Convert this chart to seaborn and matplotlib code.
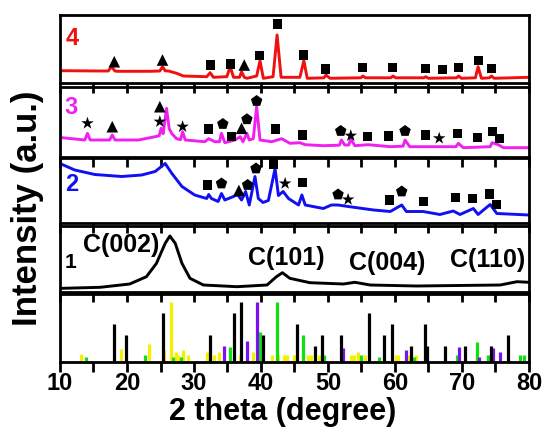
import numpy as np
import pandas as pd
import matplotlib
matplotlib.use("Agg")
import matplotlib.pyplot as plt
import seaborn as sns

# ---- data (2theta in degrees, intensity in arbitrary units) ----
# sample 4 (red)
s4_x = [10.0, 10.5, 16.0, 17.2, 17.7, 18.2, 18.5, 23.4, 24.9, 25.3, 25.7, 26.2, 27.4, 28.4, 31.9, 32.4, 32.9,
        34.9, 35.4, 35.9, 36.8, 37.1, 37.5, 37.9, 39.35, 39.85, 40.35, 41.8, 42.4, 43.0, 45.8, 46.4, 46.9,
        49.4, 49.7, 50.3, 54.9, 55.2, 55.6, 59.4, 59.7, 60.1, 64.3, 64.6, 65.0, 69.2, 69.5, 69.9, 72.0, 72.4,
        72.9, 74.1, 74.4, 74.8, 80.0]
s4_y = [12.6, 12.6, 12.3, 12.3, 16.6, 12.3, 12.0, 12.0, 12.3, 16.6, 12.5, 12.3, 10.0, 7.3, 6.6, 10.6, 6.0,
        6.6, 16.6, 6.0, 6.0, 11.6, 6.0, 5.0, 7.3, 22.6, 5.0, 6.6, 48.3, 6.0, 6.0, 22.6, 5.0,
        5.5, 8.3, 5.0, 5.5, 7.3, 5.5, 5.5, 7.3, 5.5, 5.5, 6.6, 5.0, 5.5, 7.3, 5.0, 5.5, 16.6,
        5.0, 5.5, 7.3, 5.0, 6.0]
s4_sq_x = [32.4, 35.4, 39.85, 42.4, 46.4, 49.7, 55.2, 59.7, 64.6, 67.1, 69.5, 72.4, 74.4]
s4_sq_y = [18.3, 19.3, 27.6, 59.3, 28.3, 14.3, 15.6, 15.6, 15.0, 14.0, 15.6, 22.6, 15.0]
s4_tri_x = [18.1, 25.3, 37.5]
s4_tri_y = [21.6, 23.3, 18.3]

# sample 3 (magenta)
s3_x = [10.0, 10.3, 13.7, 14.1, 14.5, 17.4, 17.8, 18.2, 21.7, 24.2, 24.8, 25.1, 25.4, 25.9, 26.3, 26.7, 27.4,
        28.0, 28.3, 28.7, 31.6, 32.2, 33.1, 33.8, 34.1, 34.6, 36.1, 36.9, 37.3, 37.9, 38.25, 38.85, 39.35,
        39.85, 41.6, 43.1, 44.3, 45.8, 46.6, 49.3, 51.7, 52.0, 52.5, 53.1, 53.4, 54.0, 56.0, 59.3, 61.2,
        61.5, 62.2, 66.5, 69.1, 69.45, 70.2, 74.2, 74.5, 75.4, 76.2, 80.0]
s3_y = [19.0, 19.0, 16.7, 23.4, 16.7, 16.7, 21.7, 16.7, 16.7, 20.0, 21.0, 28.4, 23.0, 48.4, 28.0, 23.0, 18.0,
        17.0, 25.0, 16.7, 15.0, 18.0, 15.0, 15.0, 23.4, 14.0, 16.7, 20.0, 15.0, 23.4, 16.7, 18.0, 50.0,
        16.7, 15.0, 18.0, 13.4, 14.0, 12.0, 11.0, 11.5, 16.7, 11.7, 11.7, 17.7, 11.0, 12.0, 10.0, 10.5,
        16.7, 10.0, 10.0, 10.0, 13.4, 9.0, 10.0, 14.0, 12.0, 9.0, 9.0]
s3_star_x = [14.1, 24.9, 28.3, 53.4, 66.6]
s3_star_y = [33.4, 35.0, 30.0, 21.0, 18.4]
s3_tri_x = [17.8, 24.9, 37.1]
s3_tri_y = [30.0, 50.0, 28.4]
s3_pent_x = [34.3, 37.9, 39.35, 51.9, 61.5]
s3_pent_y = [32.7, 37.4, 55.7, 25.7, 25.7]
s3_sq_x = [32.2, 35.6, 42.2, 46.2, 55.9, 59.1, 64.5, 69.35, 72.3, 74.5, 75.6]
s3_sq_y = [27.7, 20.0, 27.7, 21.7, 20.0, 20.7, 21.7, 23.4, 19.0, 25.0, 18.4]

# sample 2 (blue)
s2_x = [10.0, 12.2, 15.2, 19.2, 22.2, 24.2, 25.7, 26.7, 28.2, 30.1, 31.9, 32.2, 32.6, 33.6, 34.1, 34.6, 35.9,
        36.5, 37.1, 37.7, 38.25, 39.1, 39.6, 40.3, 41.1, 42.1, 42.6, 43.3, 44.1, 45.6, 46.1, 46.6, 49.3,
        50.5, 51.5, 53.0, 56.8, 59.3, 61.0, 61.7, 64.2, 66.7, 68.7, 69.7, 71.7, 72.4, 74.2, 75.2, 80.0]
s2_y = [59.0, 52.5, 48.0, 46.0, 47.5, 51.0, 59.0, 49.0, 36.0, 27.5, 24.0, 28.0, 24.0, 21.0, 29.0, 22.5, 26.0,
        28.0, 22.5, 31.0, 17.5, 46.0, 24.0, 20.0, 22.0, 54.0, 27.0, 31.0, 24.0, 17.5, 27.5, 17.5, 14.0,
        17.5, 17.5, 16.0, 12.5, 11.0, 17.5, 11.0, 11.0, 8.0, 11.5, 8.0, 14.0, 8.0, 18.0, 9.0, 7.5]
s2_sq_x = [32.0, 41.9, 46.2, 59.15, 64.3, 69.05, 71.6, 74.1, 75.2]
s2_sq_y = [37.5, 58.5, 40.0, 22.5, 21.0, 25.0, 24.0, 28.5, 18.0]
s2_pent_x = [34.1, 38.0, 39.25, 51.5, 61.0]
s2_pent_y = [39.0, 37.5, 54.0, 28.0, 31.0]
s2_tri_x = [36.7]
s2_tri_y = [32.0]
s2_star_x = [43.6, 53.0]
s2_star_y = [39.0, 23.0]

# sample 1 (black, carbon)
s1_x = [10.0, 10.5, 16.0, 20.4, 22.9, 24.4, 25.7, 26.4, 27.2, 28.2, 29.4, 31.4, 36.4, 40.9, 42.3, 43.2, 44.3,
        47.3, 52.3, 54.0, 56.3, 63.2, 75.7, 78.2, 80.0]
s1_y = [3.4, 3.4, 4.4, 7.7, 15.0, 28.4, 48.4, 55.7, 48.4, 28.4, 13.4, 6.7, 5.0, 6.7, 15.0, 19.0, 13.4,
        9.0, 7.7, 9.4, 6.7, 5.7, 6.7, 10.0, 9.4]
c_labels = ["C(002)", "C(101)", "C(004)", "C(110)"]
c_label_x = [19.1, 43.8, 58.9, 73.8]
c_label_y = [46.7, 33.4, 28.4, 31.7]

# standard reference lines
ref_black_x = [18.0, 19.85, 25.3, 32.4, 36.0, 37.05, 40.35, 45.4, 48.1, 49.05, 51.9, 56.1, 58.4, 59.5,
               62.4, 64.5, 64.8, 67.5, 70.5, 74.3, 76.9]
ref_black_h = [38, 27, 49, 27, 49, 60, 27, 38, 16, 27, 27, 49, 27, 38, 16, 38, 16, 16, 16, 16, 27]
ref_yellow_x = [13.2, 19.1, 23.3, 25.5, 26.5, 27.3, 27.6, 28.4, 29.05, 32.0, 33.0, 33.7, 36.8, 38.85, 40.2,
                41.7, 42.5, 43.5, 43.9, 44.9, 45.1, 46.3, 47.0, 47.5, 48.6, 52.0, 53.4, 53.9, 54.5, 55.5,
                58.4, 60.1, 60.4, 62.1, 63.1, 64.5]
ref_yellow_h = [8, 13, 18, 12, 60, 10, 7, 12, 7, 10, 7, 10, 7, 10, 7,
                7, 7, 7, 7, 7, 7, 7, 7, 7, 7, 5, 7, 7, 10, 7,
                7, 7, 7, 7, 7, 7]
ref_green_x = [13.9, 22.7, 26.8, 28.0, 35.3, 39.85, 42.4, 46.3, 49.4, 55.0, 57.6, 62.8, 69.2, 72.3, 73.9,
               78.7, 79.2]
ref_green_h = [5, 7, 5, 5, 15, 30, 60, 27, 7, 7, 5, 5, 7, 20, 7, 7, 7]
ref_purple_x = [34.5, 37.95, 39.45, 52.2, 61.6, 69.6, 72.5, 74.7, 75.7]
ref_purple_h = [16, 21, 60, 14, 12, 15, 5, 14, 10]

# ---- style ----
sns.set_style("ticks")
plt.rcParams["font.family"] = ["Liberation Sans", "DejaVu Sans"]
plt.rcParams["font.weight"] = "bold"
plt.rcParams["axes.edgecolor"] = "black"
plt.rcParams["text.color"] = "black"
plt.rcParams["xtick.color"] = "black"
plt.rcParams["xtick.labelcolor"] = "black"

W, H = 543, 433
fig = plt.figure(figsize=(W / 100, H / 100), dpi=100)

# panel (top_px, bottom_px) in the image
panels = [(15, 83.3), (86.7, 156.7), (158.3, 222.5), (226, 291.7), (294, 362)]
left, right = 60 / W, 529 / W
axes = []
for top, bot in panels:
    ax = fig.add_axes([left, 1 - bot / H, right - left, (bot - top) / H])
    ax.set_xlim(10, 80)
    ax.set_ylim(0, bot - top)
    ax.patch.set_visible(False)
    for sp in ax.spines.values():
        sp.set_linewidth(2.0)
        sp.set_color("black")
    ax.set_yticks([])
    ax.set_xticks(np.arange(10, 81, 10))
    ax.set_xticks(np.arange(15, 80, 10), minor=True)
    ax.tick_params(axis="x", which="both", direction="out", length=7, width=2,
                   color="black", labelbottom=False)
    axes.append(ax)

ax4, ax3, ax2, ax1, ax0 = axes

marker_kw = dict(color="black", edgecolor="none", legend=False, zorder=5)


def markers(ax, x, y, m, s):
    sns.scatterplot(x=x, y=y, marker=m, s=s, ax=ax, **marker_kw)


lw = 2.1
sns.lineplot(x=s4_x, y=s4_y, ax=ax4, color="#f01010", lw=lw, estimator=None)
markers(ax4, s4_sq_x, s4_sq_y, "s", 42)
markers(ax4, s4_tri_x, s4_tri_y, "^", 70)
ax4.text(10.9, 44.5, "4", color="#f01010", fontsize=17, fontweight="bold", va="center")

sns.lineplot(x=s3_x, y=s3_y, ax=ax3, color="#f020f0", lw=lw, estimator=None)
markers(ax3, s3_sq_x, s3_sq_y, "s", 42)
markers(ax3, s3_tri_x, s3_tri_y, "^", 70)
markers(ax3, s3_pent_x, s3_pent_y, "p", 75)
markers(ax3, s3_star_x, s3_star_y, "*", 90)
ax3.text(10.7, 49, "3", color="#f020f0", fontsize=17, fontweight="bold", va="center")

sns.lineplot(x=s2_x, y=s2_y, ax=ax2, color="#1010f0", lw=lw, estimator=None)
markers(ax2, s2_sq_x, s2_sq_y, "s", 42)
markers(ax2, s2_tri_x, s2_tri_y, "^", 70)
markers(ax2, s2_pent_x, s2_pent_y, "p", 75)
markers(ax2, s2_star_x, s2_star_y, "*", 90)
ax2.text(10.7, 38, "2", color="#1010f0", fontsize=17, fontweight="bold", va="center")

sns.lineplot(x=s1_x, y=s1_y, ax=ax1, color="black", lw=lw, estimator=None)
ax1.text(10.7, 29, "1", color="black", fontsize=15, fontweight="bold", va="center")
for lab, cx, cy in zip(c_labels, c_label_x, c_label_y):
    ax1.text(cx, cy, lab, fontsize=18, fontweight="bold", ha="center", va="center")

blw = 2.3
ax0.vlines(ref_yellow_x, 0, ref_yellow_h, colors="#f5f000", lw=blw)
ax0.vlines(ref_green_x, 0, ref_green_h, colors="#10e010", lw=blw)
ax0.vlines(ref_purple_x, 0, ref_purple_h, colors="#7a10f0", lw=blw)
ax0.vlines(ref_black_x, 0, ref_black_h, colors="black", lw=blw)
ax0.tick_params(axis="x", which="major", labelbottom=True, labelsize=17, pad=0)
for t in ax0.get_xticklabels():
    t.set_fontweight("bold")

fig.text(0.52, 0.048, "2 theta (degree)", fontsize=22, fontweight="bold", ha="center", va="center")
fig.text(0.05, 0.52, "Intensity (a.u.)", fontsize=25, fontweight="bold", ha="center", va="center",
         rotation=90)

fig.savefig("out.png", dpi=100)
